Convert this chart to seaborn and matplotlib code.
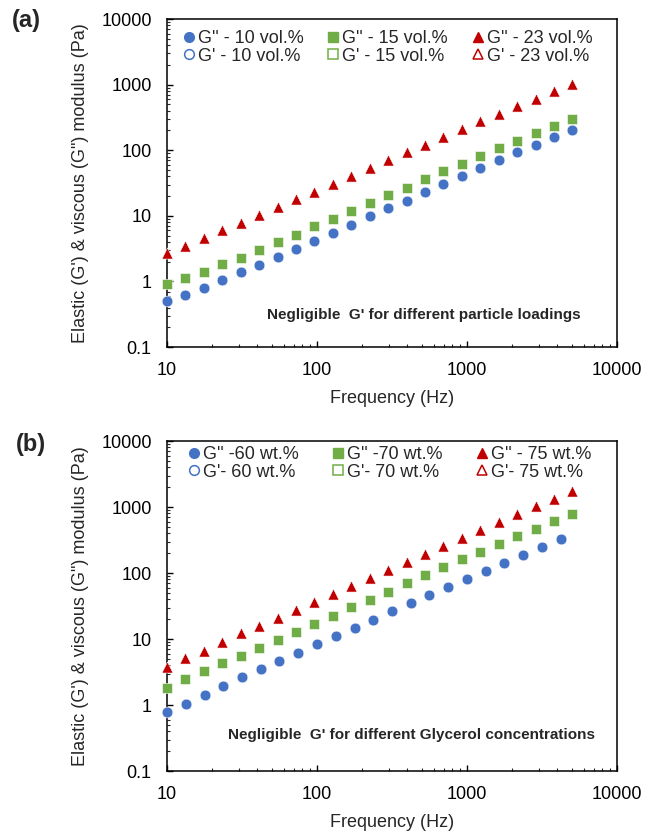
import matplotlib
matplotlib.use("Agg")
import matplotlib.pyplot as plt
from matplotlib.lines import Line2D
from matplotlib.ticker import LogLocator, FuncFormatter, NullFormatter
import seaborn as sns

sns.set_style("white")
plt.rcParams['font.family'] = ['Liberation Sans', 'DejaVu Sans']

# ---------------- data ----------------
freq = [10, 13.27, 17.61, 23.37, 31.01, 41.15, 54.60, 72.46, 96.15, 127.6, 169.3,
        224.7, 298.2, 395.7, 525.1, 696.8, 924.6, 1227, 1628, 2160, 2867, 3804, 5000]
freq_b60 = [10, 13.3, 17.8, 23.7, 31.6, 42.2, 56.2, 75.0, 100, 133, 178, 237, 316,
            422, 562, 750, 1000, 1334, 1778, 2371, 3162, 4217]

a_g2_10 = [0.50, 0.63, 0.79, 1.04, 1.39, 1.79, 2.37, 3.17, 4.15, 5.48, 7.34, 9.83,
           13.1, 17.0, 22.7, 30.1, 40.3, 53.9, 71.3, 93.3, 122, 157, 204]
a_g2_15 = [0.91, 1.12, 1.39, 1.81, 2.26, 3.03, 3.96, 5.11, 6.93, 8.85, 11.7, 15.5,
           20.5, 26.8, 35.8, 47.4, 61.2, 82.0, 107, 140, 181, 237, 303]
a_g2_23 = [2.69, 3.52, 4.66, 6.02, 7.87, 10.3, 13.8, 17.8, 23.0, 30.5, 40.3, 53.9,
           70.5, 93.3, 120, 161, 208, 276, 360, 471, 609, 797, 1030]

b_g2_60 = [0.77, 1.02, 1.43, 1.96, 2.63, 3.51, 4.70, 6.21, 8.30, 11.1, 14.9, 19.6,
           26.3, 34.7, 46.4, 62.1, 81.2, 108, 143, 187, 248, 324]
b_g2_70 = [1.79, 2.48, 3.27, 4.28, 5.52, 7.31, 9.66, 12.9, 17.1, 22.6, 30.2, 39.4,
           52.1, 69.7, 92.2, 122, 161, 211, 275, 359, 470, 607, 793]
b_g2_75 = [3.81, 5.09, 6.66, 9.11, 12.2, 15.9, 21.0, 27.8, 36.4, 48.1, 64.3, 84.0,
           111, 149, 196, 257, 339, 448, 593, 783, 1023, 1337, 1746]

labels_a = ["G'' - 10 vol.%", "G' - 10 vol.%", "G'' - 15 vol.%", "G' - 15 vol.%",
            "G'' - 23 vol.%", "G' - 23 vol.%"]
labels_b = ["G'' -60 wt.%", "G'- 60 wt.%", "G'' -70 wt.%", "G'- 70 wt.%",
            "G'' - 75 wt.%", "G'- 75 wt.%"]
note_a = "Negligible  G' for different particle loadings"
note_b = "Negligible  G' for different Glycerol concentrations"
yticks = [0.1, 1, 10, 100, 1000, 10000]
xticks = [10, 100, 1000, 10000]

BLUE, GREEN, RED = "#4472C4", "#70AD47", "#C00000"
FS = 13

fig = plt.figure(figsize=(6.55, 8.33), dpi=100)
ax_a = fig.add_axes([167/655, 1-347/833, 450/655, 328/833])
ax_b = fig.add_axes([167/655, 1-771/833, 450/655, 330/833])


def draw(ax, series, labels, note, note_xy, panel, panel_xy, leg_anchor, colspace):
    specs = [("o", BLUE, 60), ("s", GREEN, 48), ("^", RED, 64)]
    for (x, y), (m, c, s) in zip(series, specs):
        sns.scatterplot(x=x, y=y, marker=m, color=c, s=s, edgecolor="white",
                        linewidth=0.4, ax=ax, legend=False, zorder=3, clip_on=False)
    ax.set_xscale("log")
    ax.set_yscale("log")
    ax.set_xlim(10, 10000)
    ax.set_ylim(0.1, 10000)
    ax.set_xticks(xticks)
    ax.set_yticks(yticks)
    fmt = FuncFormatter(lambda v, p: f"{v:g}")
    ax.xaxis.set_major_formatter(fmt)
    ax.yaxis.set_major_formatter(fmt)
    ax.xaxis.set_minor_locator(LogLocator(base=10, subs=range(2, 10), numticks=20))
    ax.yaxis.set_minor_locator(LogLocator(base=10, subs=range(2, 10), numticks=20))
    ax.xaxis.set_minor_formatter(NullFormatter())
    ax.yaxis.set_minor_formatter(NullFormatter())
    ax.tick_params(which="major", direction="in", length=4.5, width=1, pad=11,
                   labelsize=FS, colors="black", top=False, right=False,
                   bottom=True, left=True)
    ax.tick_params(which="minor", direction="in", length=2.5, width=0.8,
                   top=False, right=False, bottom=True, left=True)
    for sp in ax.spines.values():
        sp.set_visible(True)
        sp.set_color("black")
        sp.set_linewidth(1.1)
    ax.set_xlabel("Frequency (Hz)", fontsize=FS, labelpad=8)
    ax.set_ylabel("Elastic (G') & viscous (G\") modulus (Pa)", fontsize=FS, labelpad=9)

    handles = []
    for (m, c, s) in specs:
        handles.append(Line2D([], [], ls="", marker=m, color=c, markersize=7,
                              markeredgecolor=c))
        handles.append(Line2D([], [], ls="", marker=m, markerfacecolor="white",
                              markeredgecolor=c, markersize=7, markeredgewidth=1.1))
    ax.legend(handles, labels, ncol=3, frameon=False, fontsize=FS,
              loc="upper left", bbox_to_anchor=leg_anchor,
              handlelength=0.7, handletextpad=0.15, columnspacing=colspace,
              labelspacing=0.05, borderaxespad=0.2)
    ax.text(note_xy[0], note_xy[1], note, transform=ax.transAxes, fontsize=11,
            fontweight="bold", ha="center", va="center")
    fig.text(panel_xy[0], panel_xy[1], panel, fontsize=17, fontweight="bold",
             ha="left", va="center")


draw(ax_a, [(freq, a_g2_10), (freq, a_g2_15), (freq, a_g2_23)], labels_a, note_a,
     ((423.5-167)/450, (347-315)/328), "(a)", (12/655, 1-20/833), (0.01, 1.0), 1.3)
draw(ax_b, [(freq_b60, b_g2_60), (freq, b_g2_70), (freq, b_g2_75)], labels_b, note_b,
     ((412-167)/450, (771-735)/330), "(b)", (16/655, 1-445/833), (0.021, 1.018), 1.85)

fig.savefig("out.png", dpi=100)
